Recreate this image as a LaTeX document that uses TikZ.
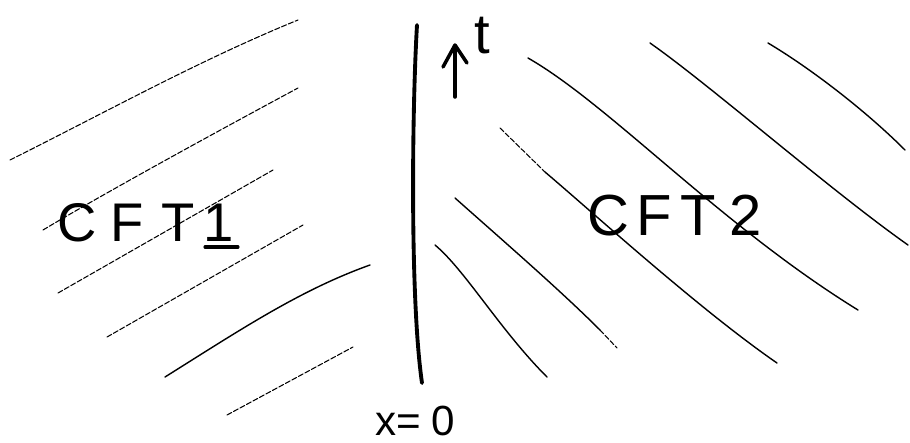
\documentclass[tikz,border=0pt]{standalone}
\usepackage{fontspec}
\setmainfont{Liberation Sans}
\begin{document}
\begin{tikzpicture}[x={(0.02cm,0)},y={(0,-0.02cm)},
  faint/.style={line width=0.6pt,dash pattern=on 3pt off 1.2pt,line cap=round},
  thinline/.style={line width=0.8pt,line cap=round},
  wall/.style={line width=2.2pt,line cap=round},
  lbl/.style={inner sep=0pt,anchor=base west}]
\useasboundingbox (0,0) rectangle (910,443);
% interface x=0
\draw[wall] (417,25) .. controls (412,110) and (410,300) .. (422,383);
% time arrow
\draw[line width=2pt,line cap=round,line join=round] (455,97) -- (455,46);
\draw[line width=2pt,line cap=round,line join=round] (443,67) -- (455,45) -- (467,63);
\node[lbl,font=\fontsize{32}{36}\selectfont] (t) at (474,53) {t};
% left hatching (CFT1)
\draw[faint] (10,160) .. controls (110,110) and (200,60) .. (298,20);
\draw[faint] (43,230) .. controls (110,190) and (220,130) .. (298,88);
\draw[faint] (58,293) -- (273,170);
\draw[faint] (107,337) -- (303,225);
\draw[thinline] (165,377) .. controls (240,330) and (300,290) .. (370,265);
\draw[faint] (227,415) -- (353,347);
% right hatching (CFT2)
\draw[thinline] (528,58) .. controls (610,105) and (720,225) .. (858,310);
\draw[thinline] (650,43) .. controls (710,85) and (830,190) .. (908,245);
\draw[thinline] (768,43) .. controls (810,68) and (865,110) .. (905,150);
\draw[faint] (500,128) -- (545,172);
\draw[thinline] (545,172) .. controls (590,210) and (700,310) .. (777,363);
\draw[thinline] (455,198) .. controls (500,238) and (560,290) .. (600,330);
\draw[faint] (600,330) -- (617,348);
\draw[thinline] (435,245) .. controls (465,270) and (500,330) .. (547,377);
% labels
\node[lbl,font=\fontsize{31}{36}\selectfont] (cft1) at (57,241) {C\hspace{8pt}F\hspace{10pt}T\hspace{5pt}1};
\draw[line width=1.8pt,line cap=round] (205,247) -- (238,247);
\node[lbl,font=\fontsize{33}{38}\selectfont] (cft2) at (587,235) {C\hspace{4pt}F\hspace{5pt}T\hspace{8pt}2};
\node[lbl,font=\fontsize{24}{28}\selectfont] (x0) at (375,435) {x=\hspace{6pt}0};
\end{tikzpicture}
\end{document}
